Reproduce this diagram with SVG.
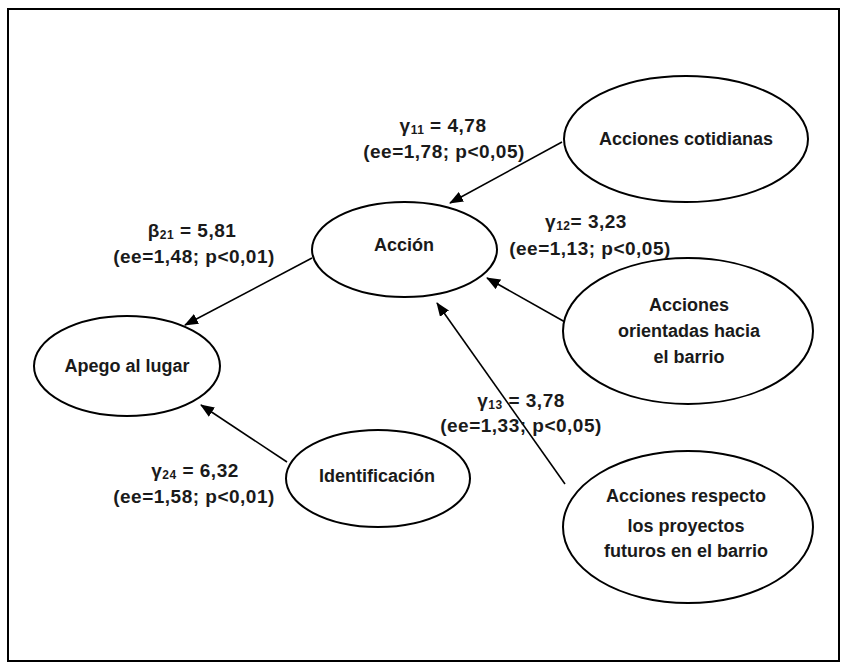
<svg xmlns="http://www.w3.org/2000/svg" width="842" height="663" viewBox="0 0 842 663">
<defs>
<marker id="ah" markerWidth="14" markerHeight="11" refX="13" refY="5.5" orient="auto" markerUnits="userSpaceOnUse">
<path d="M0,0 L14,5.5 L0,11 Z" fill="#000"/>
</marker>
<style>
.n{fill:#fff;stroke:#000;stroke-width:2}
.t{font-family:"Liberation Sans",Arial,sans-serif;font-size:18px;font-weight:bold;fill:#1a1a1a;text-anchor:middle}
.l{font-size:19px;letter-spacing:0.5px}
.c{stroke:#000;stroke-width:1.6;fill:none;marker-end:url(#ah)}
.s{font-size:12px}
</style>
</defs>
<rect x="0" y="0" width="842" height="663" fill="#fff"/>
<rect x="8" y="9" width="831" height="652" fill="none" stroke="#000" stroke-width="2"/>
<g id="connectors">
<line class="c" x1="562" y1="142" x2="450" y2="203"/>
<line class="c" x1="565" y1="322" x2="487" y2="278"/>
<line class="c" x1="565" y1="484" x2="437" y2="303"/>
<line class="c" x1="312" y1="258" x2="185" y2="325"/>
<line class="c" x1="287" y1="462" x2="201" y2="405"/>
</g>
<g id="n-cotidianas"><ellipse class="n" cx="686" cy="139" rx="122" ry="63"/><text class="t" x="686" y="145">Acciones cotidianas</text></g>
<g id="n-accion"><ellipse class="n" cx="404.5" cy="249.5" rx="92.5" ry="47.5"/><text class="t" x="404" y="251">Acción</text></g>
<g id="n-orientadas"><ellipse class="n" cx="688" cy="331" rx="125" ry="73"/><text class="t" x="689" y="311">Acciones</text><text class="t" x="689" y="337">orientadas hacia</text><text class="t" x="689" y="363">el barrio</text></g>
<g id="n-apego"><ellipse class="n" cx="127" cy="366" rx="93" ry="50"/><text class="t" x="127" y="372">Apego al lugar</text></g>
<g id="n-identificacion"><ellipse class="n" cx="378" cy="478.5" rx="92" ry="48.5"/><text class="t" x="377" y="482">Identificación</text></g>
<g id="n-respecto"><ellipse class="n" cx="688" cy="527" rx="125" ry="76"/><text class="t" x="686" y="502">Acciones respecto</text><text class="t" x="686" y="532">los proyectos</text><text class="t" x="686" y="557">futuros en el barrio</text></g>
<g id="labels">
<text class="t l" x="443" y="132">γ<tspan class="s" dy="2">11</tspan><tspan dy="-2"> = 4,78</tspan></text>
<text class="t l" x="444" y="158">(ee=1,78; p&lt;0,05)</text>
<text class="t l" x="586" y="228">γ<tspan class="s" dy="2">12</tspan><tspan dy="-2">= 3,23</tspan></text>
<text class="t l" x="590" y="255">(ee=1,13; p&lt;0,05)</text>
<text class="t l" x="192" y="237">β<tspan class="s" dy="2">21</tspan><tspan dy="-2"> = 5,81</tspan></text>
<text class="t l" x="194" y="263">(ee=1,48; p&lt;0,01)</text>
<text class="t l" x="521" y="407">γ<tspan class="s" dy="2">13</tspan><tspan dy="-2"> = 3,78</tspan></text>
<text class="t l" x="521" y="432">(ee=1,33; p&lt;0,05)</text>
<text class="t l" x="195" y="477">γ<tspan class="s" dy="2">24</tspan><tspan dy="-2"> = 6,32</tspan></text>
<text class="t l" x="194" y="503">(ee=1,58; p&lt;0,01)</text>
</g>
</svg>
